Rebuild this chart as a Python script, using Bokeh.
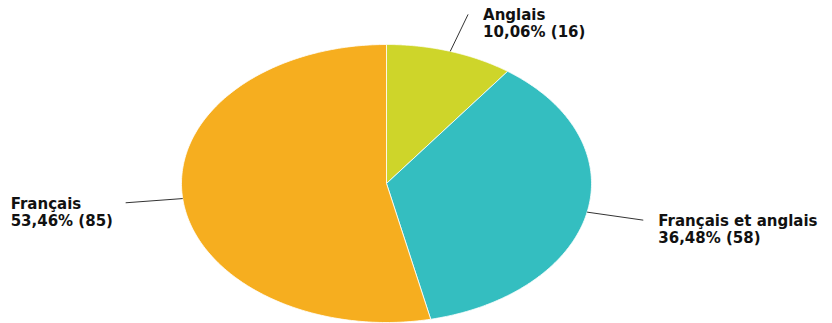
import numpy as np
from bokeh.plotting import figure
from bokeh.embed import file_html
from bokeh.resources import INLINE
from bokeh.core.properties import value

# ---- data ----
categories = ["Anglais", "Français et anglais", "Français"]
counts = [16, 58, 85]
percent_labels = ["10,06%", "36,48%", "53,46%"]
colors = ["#CED52A", "#34BEC0", "#F6AE1F"]

# ---- geometry (normalized ellipse, stretched by ranges) ----
total = float(sum(counts))
fracs = [c / total for c in counts]
ends = np.cumsum(fracs) * 2 * np.pi
starts = np.concatenate([[0.0], ends[:-1]])

xs, ys = [], []
for s, e in zip(starts, ends):
    t = np.linspace(s, e, 200)
    xs.append([0.0] + list(np.sin(t)) + [0.0])
    ys.append([0.0] + list(np.cos(t)) + [0.0])

W, H = 832, 323
p = figure(width=W, height=H, output_backend="svg", toolbar_location=None,
           x_range=(-386 / 205, (W - 386) / 205), y_range=(-(H - 183) / 139, 183 / 139),
           min_border=0, min_border_left=0, min_border_right=0,
           min_border_top=0, min_border_bottom=0)
p.axis.visible = False
p.grid.visible = False
p.outline_line_color = None
p.background_fill_color = "white"
p.border_fill_color = "white"

p.patches(xs, ys, fill_color=colors, line_color="white", line_width=0.8)

# leader lines and labels
mids = (starts + ends) / 2
for i, m in enumerate(mids):
    x0, y0 = np.sin(m), np.cos(m)
    x1, y1 = 1.28 * np.sin(m), 1.28 * np.cos(m)
    p.line([x0, x1], [y0, y1], line_color="#333333", line_width=1)
    txt = f"{categories[i]}\n{percent_labels[i]} ({counts[i]})"
    xoff = 15 if x1 >= 0 else -115
    p.text([x1], [y1], text=[txt], text_align="left", text_baseline="top",
           x_offset=xoff, y_offset=-8,
           text_font=value("DejaVu Sans"), text_font_style="bold",
           text_font_size="15px", text_color="#111111", text_line_height=0.95)

open("out.html", "w").write(file_html(p, INLINE))
